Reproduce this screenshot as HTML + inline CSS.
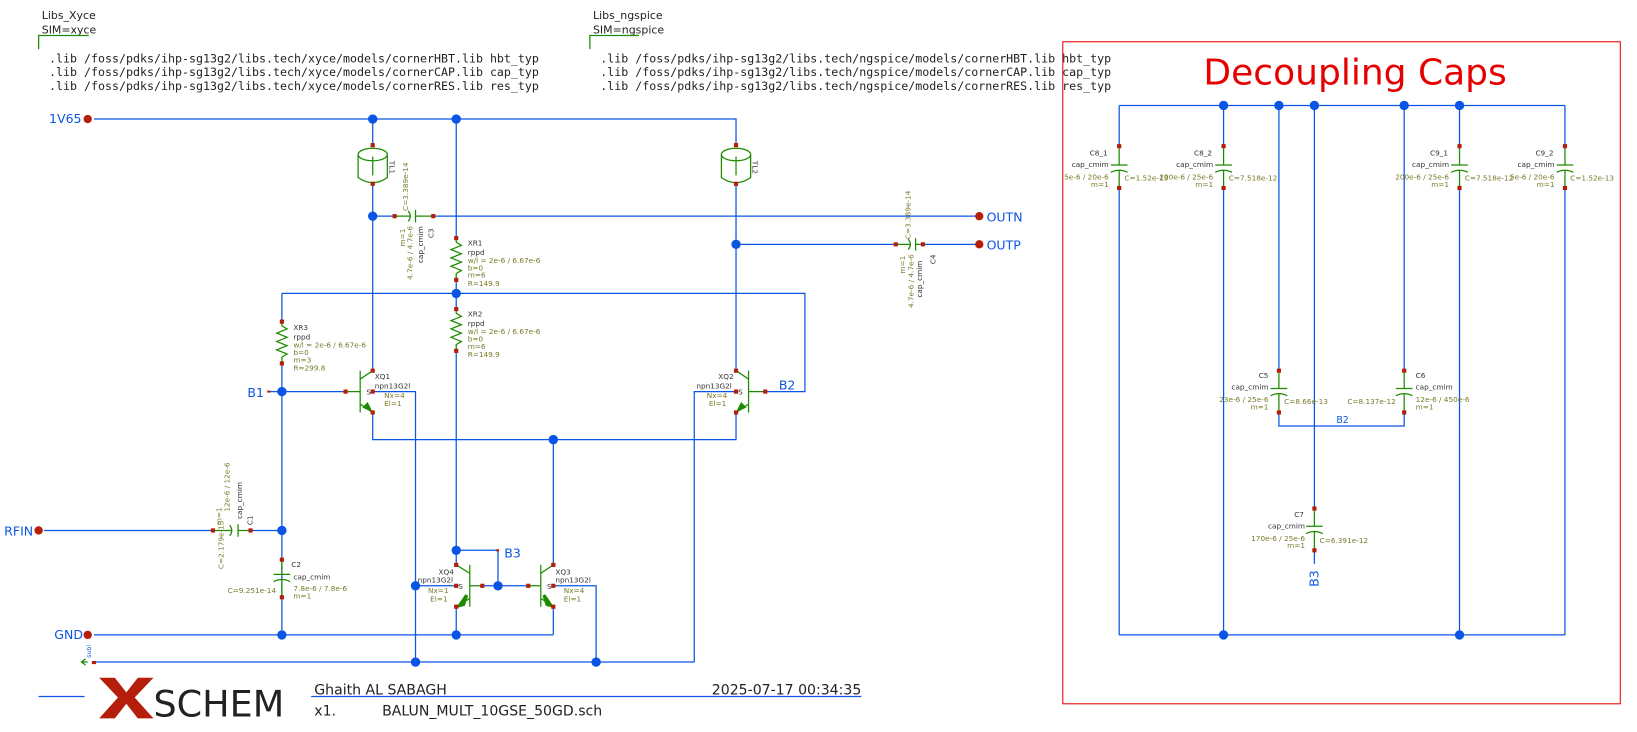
<!DOCTYPE html>
<html><head><meta charset="utf-8"><style>
html,body{margin:0;padding:0;background:#fff;overflow:hidden}
svg{display:block}
text{font-family:"DejaVu Sans","Liberation Sans",sans-serif}
.w{stroke:#0a55e6;stroke-width:1.2;fill:none}
.g{stroke:#1e8c00;stroke-width:1.2;fill:none}
.d{fill:#0a55e6}
.p{fill:#b41e0a}
.t{font-size:7px;fill:#333}
.o{font-size:7px;fill:#7a7a2a}
.b{font-size:12px;fill:#0a55e6}
.m{font-family:"DejaVu Sans Mono","Liberation Mono",monospace;font-size:11.15px;fill:#222}
</style></head><body>
<svg width="1637" height="732" viewBox="0 0 1568 701" preserveAspectRatio="none" xmlns="http://www.w3.org/2000/svg">
<text x="40" y="18" font-size="10.5" fill="#222">Libs_Xyce</text>
<text x="40" y="32" font-size="10.5" fill="#222">SIM=xyce</text>
<path d="M37 47V34H85" class="g"/>
<text x="47" y="60" class="m">.lib /foss/pdks/ihp-sg13g2/libs.tech/xyce/models/cornerHBT.lib hbt_typ</text>
<text x="47" y="73" class="m">.lib /foss/pdks/ihp-sg13g2/libs.tech/xyce/models/cornerCAP.lib cap_typ</text>
<text x="47" y="86" class="m">.lib /foss/pdks/ihp-sg13g2/libs.tech/xyce/models/cornerRES.lib res_typ</text>
<text x="568" y="18" font-size="10.5" fill="#222">Libs_ngspice</text>
<text x="568" y="32" font-size="10.5" fill="#222">SIM=ngspice</text>
<path d="M565 47V34H612" class="g"/>
<text x="575" y="60" class="m">.lib /foss/pdks/ihp-sg13g2/libs.tech/ngspice/models/cornerHBT.lib hbt_typ</text>
<text x="575" y="73" class="m">.lib /foss/pdks/ihp-sg13g2/libs.tech/ngspice/models/cornerCAP.lib cap_typ</text>
<text x="575" y="86" class="m">.lib /foss/pdks/ihp-sg13g2/libs.tech/ngspice/models/cornerRES.lib res_typ</text>

<path class="w" d="M90 114H705V140 M357 114V140 M357 175V355 M437 114V228 M437 268V296 M437 336V527V541 M357 207H378 M415 207H938 M705 175V234V355 M705 234H858 M884 234H938
M270 281H771V375H733 M270 281V308 M270 348V608 M258 375H331 M357 395V421H705V395 M530 421V541 M357 375H398V634 M705 375H665V634
M90 634H665 M530 561H571V634 M530 581V608 M437 581V608 M90 608H530 M437 527H477V561 M462 561H506 M437 561H398 M42 508H204 M240 508H270 M270 536"/>
<g class="d">
<circle cx="357" cy="114" r="4.5"/><circle cx="437" cy="114" r="4.5"/><circle cx="357" cy="207" r="4.5"/><circle cx="705" cy="234" r="4.5"/>
<circle cx="437" cy="281" r="4.5"/><circle cx="270" cy="375" r="4.5"/><circle cx="530" cy="421" r="4.5"/><circle cx="270" cy="508" r="4.5"/>
<circle cx="437" cy="527" r="4.5"/><circle cx="477" cy="561" r="4.5"/><circle cx="398" cy="561" r="4.5"/><circle cx="270" cy="608" r="4.5"/>
<circle cx="437" cy="608" r="4.5"/><circle cx="398" cy="634" r="4.5"/><circle cx="571" cy="634" r="4.5"/>
</g>
<g class="p"><circle cx="84" cy="114" r="4"/><circle cx="84" cy="608" r="4"/><circle cx="37" cy="508" r="4"/><circle cx="938" cy="207" r="4"/><circle cx="938" cy="234" r="4"/></g>
<text x="47" y="118" class="b">1V65</text><text x="52" y="612" class="b">GND</text><text x="4" y="513" class="b">RFIN</text>
<text x="945" y="212" class="b">OUTN</text><text x="945" y="239" class="b">OUTP</text>
<text x="237" y="380" class="b">B1</text><text x="746" y="373" class="b">B2</text><text x="483" y="534" class="b">B3</text>
<path class="g" d="M84 634H78 M82 631L78 634L82 637"/><text x="87" y="630" font-size="6" fill="#0a55e6" transform="rotate(-90 87 630)">sub!</text>

<g class="g">
<ellipse cx="357" cy="148" rx="14" ry="6"/><path d="M343 148V170Q357 180 371 170V148"/><path d="M357 150V168"/>
<ellipse cx="705" cy="148" rx="14" ry="6"/><path d="M691 148V170Q705 180 719 170V148"/><path d="M705 150V168"/>
</g>
<text x="373" y="154" class="t" transform="rotate(90 373 154)">TL1</text>
<text x="721" y="154" class="t" transform="rotate(90 721 154)">TL2</text>

<g class="g">
<path d="M437 228V232L442 235L432 239L442 243L432 247L442 251L432 255L442 259L437 262V268"/>
<path d="M437 296V300L442 303L432 307L442 311L432 315L442 319L432 323L442 327L437 330V336"/>
<path d="M270 308V312L275 315L265 319L275 323L265 327L275 331L265 335L275 339L270 342V348"/>
</g>
<text x="448" y="235" class="t">XR1</text><text x="448" y="244" class="t">rppd</text><text x="448" y="252" class="o">w/l = 2e-6 / 6.67e-6</text><text x="448" y="259" class="o">b=0</text><text x="448" y="266" class="o">m=6</text><text x="448" y="274" class="o">R=149.9</text>
<text x="448" y="303" class="t">XR2</text><text x="448" y="312" class="t">rppd</text><text x="448" y="320" class="o">w/l = 2e-6 / 6.67e-6</text><text x="448" y="327" class="o">b=0</text><text x="448" y="334" class="o">m=6</text><text x="448" y="342" class="o">R=149.9</text>
<text x="281" y="316" class="t">XR3</text><text x="281" y="325" class="t">rppd</text><text x="281" y="333" class="o">w/l = 2e-6 / 6.67e-6</text><text x="281" y="340" class="o">b=0</text><text x="281" y="347" class="o">m=3</text><text x="281" y="355" class="o">R=299.8</text>

<g class="g">
<path d="M378 207H393 M391 202Q395 207 391 212 M398 201V213 M398 207H415"/>
<path d="M858 234H872 M870 229Q874 234 870 239 M877 228V240 M877 234H884"/>
<path d="M204 508H222 M220 503Q224 508 220 513 M228 502V514 M228 508H240"/>
<path d="M270 536V550 M262 550H278 M262 557Q270 553 278 557 M270 555V572"/>
</g>
<text x="388" y="236" class="o" transform="rotate(-90 388 236)">m=1</text><text x="395" y="268" class="o" transform="rotate(-90 395 268)">4.7e-6 / 4.7e-6</text>
<text x="391" y="202" class="o" transform="rotate(-90 391 202)">C=3.389e-14</text><text x="405" y="252" class="t" transform="rotate(-90 405 252)">cap_cmim</text><text x="415" y="228" class="t" transform="rotate(-90 415 228)">C3</text>
<text x="867" y="262" class="o" transform="rotate(-90 867 262)">m=1</text><text x="875" y="295" class="o" transform="rotate(-90 875 295)">4.7e-6 / 4.7e-6</text>
<text x="872" y="229" class="o" transform="rotate(-90 872 229)">C=3.389e-14</text><text x="883" y="285" class="t" transform="rotate(-90 883 285)">cap_cmim</text><text x="896" y="253" class="t" transform="rotate(-90 896 253)">C4</text>
<text x="212" y="503" class="o" transform="rotate(-90 212 503)">m=1</text><text x="220" y="490" class="o" transform="rotate(-90 220 490)">12e-6 / 12e-6</text>
<text x="214" y="545" class="o" transform="rotate(-90 214 545)">C=2.179e-13</text><text x="232" y="497" class="t" transform="rotate(-90 232 497)">cap_cmim</text><text x="242" y="503" class="t" transform="rotate(-90 242 503)">C1</text>
<text x="279" y="543" class="t">C2</text><text x="281" y="555" class="t">cap_cmim</text><text x="281" y="566" class="o">7.8e-6 / 7.8e-6</text><text x="281" y="573" class="o">m=1</text><text x="218" y="568" class="o">C=9.251e-14</text>

<g class="g">
<path d="M345 355V395 M331 375H345 M345 363L357 355 M345 387L357 395"/><path d="M348 390L356 394L352 386Z" fill="#1e8c00"/>
<path d="M717 355V395 M733 375H717 M717 363L705 355 M717 387L705 395"/><path d="M714 390L706 394L710 386Z" fill="#1e8c00"/>
<path d="M450 541V581 M462 561H450 M450 549L437 541 M450 573L437 581"/><path d="M440 580L447 570L444 579Z" fill="#1e8c00" stroke-width="3"/>
<path d="M518 541V581 M506 561H518 M518 549L530 541 M518 573L530 581"/><path d="M528 580L521 570L524 579Z" fill="#1e8c00" stroke-width="3"/>
</g>
<text x="359" y="363" class="t">XQ1</text><text x="359" y="372" class="t">npn13G2l</text><text x="368" y="381" class="o">Nx=4</text><text x="368" y="389" class="o">El=1</text><text x="351" y="378" class="t">S</text>
<text x="688" y="363" class="t">XQ2</text><text x="667" y="372" class="t">npn13G2l</text><text x="677" y="381" class="o">Nx=4</text><text x="679" y="389" class="o">El=1</text><text x="707" y="378" class="t">S</text>
<text x="420" y="550" class="t">XQ4</text><text x="400" y="558" class="t">npn13G2l</text><text x="410" y="568" class="o">Nx=1</text><text x="412" y="576" class="o">El=1</text><text x="439" y="564" class="t">S</text>
<text x="532" y="550" class="t">XQ3</text><text x="532" y="558" class="t">npn13G2l</text><text x="540" y="568" class="o">Nx=4</text><text x="540" y="576" class="o">El=1</text><text x="524" y="564" class="t">S</text>

<g class="p">
<rect x="355" y="137" width="4" height="4"/><rect x="355" y="174" width="4" height="4"/><rect x="703" y="137" width="4" height="4"/><rect x="703" y="174" width="4" height="4"/>
<rect x="376" y="205" width="4" height="4"/><rect x="413" y="205" width="4" height="4"/><rect x="856" y="232" width="4" height="4"/><rect x="882" y="232" width="4" height="4"/>
<rect x="435" y="226" width="4" height="4"/><rect x="435" y="266" width="4" height="4"/><rect x="435" y="294" width="4" height="4"/><rect x="435" y="334" width="4" height="4"/>
<rect x="268" y="306" width="4" height="4"/><rect x="268" y="346" width="4" height="4"/>
<rect x="355" y="353" width="4" height="4"/><rect x="355" y="373" width="4" height="4"/><rect x="355" y="393" width="4" height="4"/><rect x="329" y="373" width="4" height="4"/>
<rect x="703" y="353" width="4" height="4"/><rect x="703" y="373" width="4" height="4"/><rect x="703" y="393" width="4" height="4"/><rect x="731" y="373" width="4" height="4"/>
<rect x="435" y="539" width="4" height="4"/><rect x="435" y="559" width="4" height="4"/><rect x="435" y="579" width="4" height="4"/><rect x="460" y="559" width="4" height="4"/>
<rect x="528" y="539" width="4" height="4"/><rect x="528" y="559" width="4" height="4"/><rect x="528" y="579" width="4" height="4"/><rect x="504" y="559" width="4" height="4"/>
<rect x="202" y="506" width="4" height="4"/><rect x="238" y="506" width="4" height="4"/><rect x="268" y="534" width="4" height="4"/><rect x="268" y="570" width="4" height="4"/>
<rect x="256" y="374" width="3" height="2"/><rect x="88" y="633" width="4" height="3"/><rect x="475" y="526" width="3" height="2"/>
</g>

<rect x="1018" y="40" width="534" height="634" fill="none" stroke="#e60000" stroke-width="1"/>
<text x="1298" y="81" font-size="34.5" fill="#e60000" text-anchor="middle">Decoupling Caps</text>
<path class="w" d="M1072 101H1499 M1072 101V140 M1072 180V608 M1172 101V140 M1172 180V608 M1398 101V140 M1398 180V608 M1499 101V140 M1499 180V608 M1072 608H1499
M1225 101V355 M1225 395V408H1345V395 M1345 101V355 M1259 101V487 M1259 527V540"/>
<g class="d"><circle cx="1172" cy="101" r="4.5"/><circle cx="1225" cy="101" r="4.5"/><circle cx="1259" cy="101" r="4.5"/><circle cx="1345" cy="101" r="4.5"/><circle cx="1398" cy="101" r="4.5"/><circle cx="1172" cy="608" r="4.5"/><circle cx="1398" cy="608" r="4.5"/></g>
<g class="g">
<path d="M1072 142V158 M1064 158H1080 M1064 165Q1072 161 1080 165 M1072 163V180"/>
<path d="M1172 142V158 M1164 158H1180 M1164 165Q1172 161 1180 165 M1172 163V180"/>
<path d="M1398 142V158 M1390 158H1406 M1390 165Q1398 161 1406 165 M1398 163V180"/>
<path d="M1499 142V158 M1491 158H1507 M1491 165Q1499 161 1507 165 M1499 163V180"/>
<path d="M1225 357V372 M1217 372H1233 M1217 379Q1225 375 1233 379 M1225 377V395"/>
<path d="M1345 357V372 M1337 372H1353 M1337 379Q1345 375 1353 379 M1345 377V395"/>
<path d="M1259 489V504 M1251 504H1267 M1251 511Q1259 507 1267 511 M1259 509V527"/>
</g>
<g class="p">
<rect x="1070" y="138" width="4" height="4"/><rect x="1070" y="178" width="4" height="4"/><rect x="1170" y="138" width="4" height="4"/><rect x="1170" y="178" width="4" height="4"/>
<rect x="1396" y="138" width="4" height="4"/><rect x="1396" y="178" width="4" height="4"/><rect x="1497" y="138" width="4" height="4"/><rect x="1497" y="178" width="4" height="4"/>
<rect x="1223" y="353" width="4" height="4"/><rect x="1223" y="393" width="4" height="4"/><rect x="1343" y="353" width="4" height="4"/><rect x="1343" y="393" width="4" height="4"/>
<rect x="1257" y="485" width="4" height="4"/><rect x="1257" y="525" width="4" height="4"/>
</g>
<text x="1061" y="149" class="t" text-anchor="end">C8_1</text><text x="1062" y="160" class="t" text-anchor="end">cap_cmim</text><text x="1062" y="172" class="o" text-anchor="end">5e-6 / 20e-6</text><text x="1062" y="179" class="o" text-anchor="end">m=1</text><text x="1077" y="173" class="o">C=1.52e-13</text>
<text x="1161" y="149" class="t" text-anchor="end">C8_2</text><text x="1162" y="160" class="t" text-anchor="end">cap_cmim</text><text x="1162" y="172" class="o" text-anchor="end">200e-6 / 25e-6</text><text x="1162" y="179" class="o" text-anchor="end">m=1</text><text x="1177" y="173" class="o">C=7.518e-12</text>
<text x="1387" y="149" class="t" text-anchor="end">C9_1</text><text x="1388" y="160" class="t" text-anchor="end">cap_cmim</text><text x="1388" y="172" class="o" text-anchor="end">200e-6 / 25e-6</text><text x="1388" y="179" class="o" text-anchor="end">m=1</text><text x="1403" y="173" class="o">C=7.518e-12</text>
<text x="1488" y="149" class="t" text-anchor="end">C9_2</text><text x="1489" y="160" class="t" text-anchor="end">cap_cmim</text><text x="1489" y="172" class="o" text-anchor="end">5e-6 / 20e-6</text><text x="1489" y="179" class="o" text-anchor="end">m=1</text><text x="1504" y="173" class="o">C=1.52e-13</text>
<text x="1215" y="362" class="t" text-anchor="end">C5</text><text x="1215" y="373" class="t" text-anchor="end">cap_cmim</text><text x="1215" y="385" class="o" text-anchor="end">23e-6 / 25e-6</text><text x="1215" y="392" class="o" text-anchor="end">m=1</text><text x="1230" y="387" class="o">C=8.66e-13</text>
<text x="1356" y="362" class="t">C6</text><text x="1356" y="373" class="t">cap_cmim</text><text x="1356" y="385" class="o">12e-6 / 450e-6</text><text x="1356" y="392" class="o">m=1</text><text x="1337" y="387" class="o" text-anchor="end">C=8.137e-12</text>
<text x="1249" y="495" class="t" text-anchor="end">C7</text><text x="1250" y="506" class="t" text-anchor="end">cap_cmim</text><text x="1250" y="518" class="o" text-anchor="end">170e-6 / 25e-6</text><text x="1250" y="525" class="o" text-anchor="end">m=1</text><text x="1264" y="520" class="o">C=6.391e-12</text>
<text x="1280" y="405" font-size="9" fill="#0a55e6">B2</text>
<text x="1263" y="562" class="b" font-size="11" transform="rotate(-90 1263 562)">B3</text>

<path d="M37 667H81 M298 667H825" stroke="#0a55e6" stroke-width="1.2"/>
<path d="M95 649H110L121 663L132 649H147L129 668L147 688H132L121 674L110 688H95L113 668Z" fill="#b41e0a"/>
<text x="147" y="686" font-size="35" fill="#222">SCHEM</text>
<text x="301" y="665" font-size="13.5" fill="#222">Ghaith AL SABAGH</text>
<text x="825" y="665" font-size="13.5" fill="#222" text-anchor="end">2025-07-17  00:34:35</text>
<text x="301" y="685" font-size="13.5" fill="#222">x1.</text>
<text x="366" y="685" font-size="13.5" fill="#222">BALUN_MULT_10GSE_50GD.sch</text>
</svg>
</body></html>
